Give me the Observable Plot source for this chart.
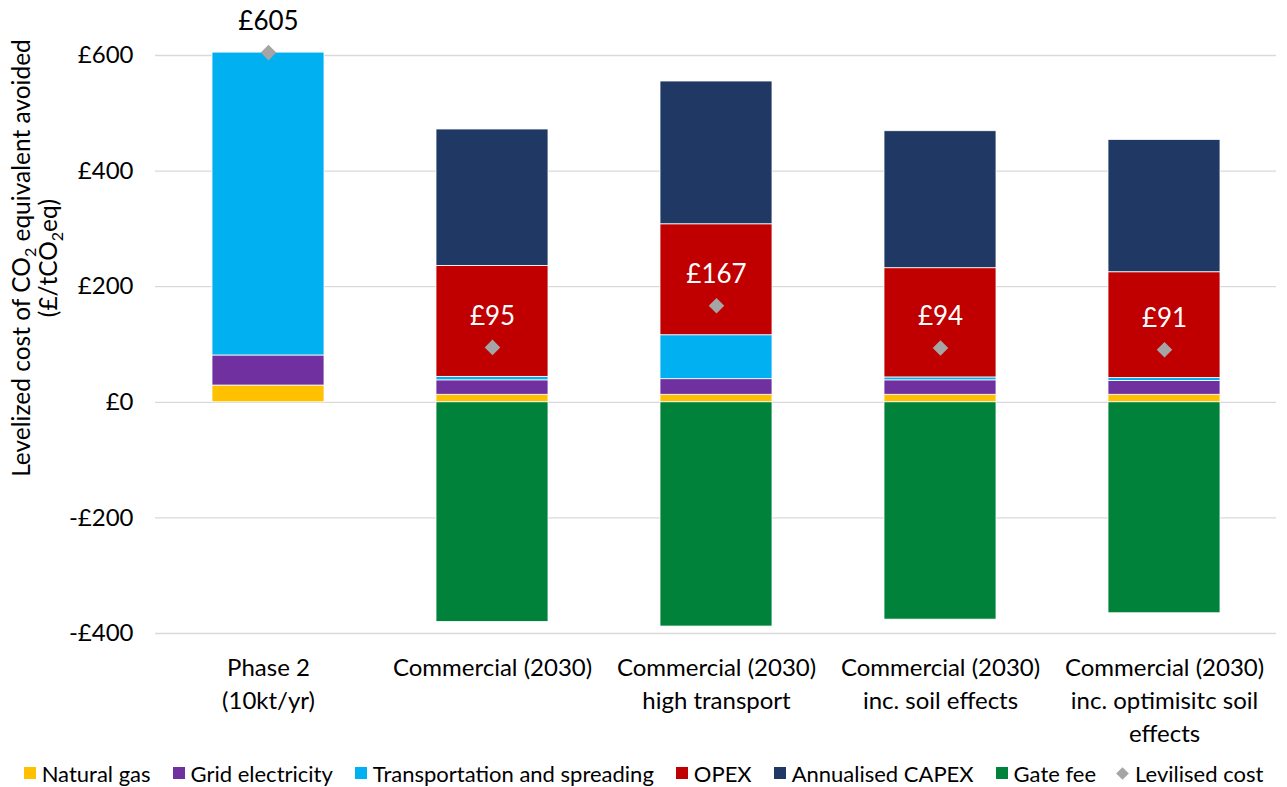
<!DOCTYPE html>
<html>
<head>
<meta charset="utf-8">
<script src="https://cdn.jsdelivr.net/npm/d3@7"></script>
<script src="https://cdn.jsdelivr.net/npm/@observablehq/plot@0.6"></script>
<style>
  body { margin: 0; background: #fff; font-family: Lato, "Open Sans", sans-serif; }
  #chart { width: 1287px; }
  .legend { display: flex; justify-content: center; align-items: center; gap: 22px; font-size: 22px; color: #000; height: 34px; margin-top: 3px; white-space: nowrap; }
  .legend .item { display: flex; align-items: center; gap: 6px; }
  .legend .sw { width: 12px; height: 12px; display: inline-block; }
  .legend .dia { width: 9px; height: 9px; background: #A5A5A5; transform: rotate(45deg); display: inline-block; margin-right: 2px; }
</style>
</head>
<body>
<div id="chart"></div>
<script>
const categories = [
  "Phase 2\n(10kt/yr)",
  "Commercial (2030)",
  "Commercial (2030)\nhigh transport",
  "Commercial (2030)\ninc. soil effects",
  "Commercial (2030)\ninc. optimisitc soil\neffects"
];
const seriesNames = ["Natural gas", "Grid electricity", "Transportation and spreading", "OPEX", "Annualised CAPEX", "Gate fee"];
const seriesColors = ["#FFC000", "#7030A0", "#00B0F0", "#C00000", "#203864", "#00823B"];
const naturalGas      = [29, 13, 13, 13, 13];
const gridElectricity = [52, 25, 27, 25, 24];
const transport       = [524, 6, 76, 5, 5];
const opex            = [0, 192, 192, 189, 183];
const capex           = [0, 236, 247, 237, 229];
const gateFee         = [0, -380, -388, -376, -365];
const levelised       = [605, 95, 167, 94, 91];
const levelisedLabels = ["£605", "£95", "£167", "£94", "£91"];
const yTicks = [-400, -200, 0, 200, 400, 600];

const seriesValues = [naturalGas, gridElectricity, transport, opex, capex, gateFee];
const rows = [];
seriesNames.forEach((s, si) => {
  categories.forEach((c, ci) => {
    rows.push({category: c, series: s, value: seriesValues[si][ci]});
  });
});
const points = categories.map((c, i) => ({category: c, value: levelised[i], label: levelisedLabels[i], dark: i === 0}));

const fmt = d => d < 0 ? "-£" + (-d) : "£" + d;

const plot = Plot.plot({
  width: 1287,
  height: 753,
  marginLeft: 155,
  marginRight: 11,
  marginTop: 55,
  marginBottom: 120,
  style: {fontFamily: "Lato, 'Open Sans', sans-serif", fontSize: "24px", color: "#000", background: "#fff"},
  x: {domain: categories, paddingInner: 0.5, paddingOuter: 0.25, label: null},
  y: {domain: [-400, 600], label: null},
  color: {domain: seriesNames, range: seriesColors},
  marks: [
    Plot.gridY(yTicks, {stroke: "#D9D9D9", strokeOpacity: 1, strokeWidth: 1.3}),
    Plot.axisY(yTicks, {tickSize: 0, tickPadding: 22, tickFormat: fmt, fontSize: 24}),
    Plot.axisX({tickSize: 0, tickPadding: 19, lineHeight: 1.38, fontSize: 24}),
    Plot.barY(rows, {x: "category", y: "value", fill: "series", order: seriesNames, stroke: "white", strokeWidth: 0.8}),
    Plot.dot(points, {x: "category", y: "value", symbol: "diamond2", r: 7, fill: "#A5A5A5", stroke: "none"}),
    Plot.text(points, {x: "category", y: "value", text: "label", dy: -31, fontSize: 26, fill: d => d.dark ? "#000" : "#fff"})
  ]
});

const svg = d3.select(plot);
const title = svg.append("text")
  .attr("transform", "translate(30,258) rotate(-90)")
  .attr("text-anchor", "middle")
  .attr("font-size", 24.5)
  .attr("fill", "#000");
title.append("tspan").text("Levelized cost of CO");
title.append("tspan").attr("font-size", 16).attr("dy", 6).text("2");
title.append("tspan").attr("dy", -6).text(" equivalent avoided");
const title2 = svg.append("text")
  .attr("transform", "translate(57,258) rotate(-90)")
  .attr("text-anchor", "middle")
  .attr("font-size", 24.5)
  .attr("fill", "#000");
title2.append("tspan").text("(£/tCO");
title2.append("tspan").attr("font-size", 16).attr("dy", 6).text("2");
title2.append("tspan").attr("dy", -6).text("eq)");

document.getElementById("chart").appendChild(plot);

const legend = document.createElement("div");
legend.className = "legend";
seriesNames.forEach((s, i) => {
  const it = document.createElement("span");
  it.className = "item";
  const sw = document.createElement("span");
  sw.className = "sw";
  sw.style.background = seriesColors[i];
  it.appendChild(sw);
  it.appendChild(document.createTextNode(s));
  legend.appendChild(it);
});
const it = document.createElement("span");
it.className = "item";
const dia = document.createElement("span");
dia.className = "dia";
it.appendChild(dia);
it.appendChild(document.createTextNode("Levilised cost"));
legend.appendChild(it);
document.getElementById("chart").appendChild(legend);
</script>
</body>
</html>
